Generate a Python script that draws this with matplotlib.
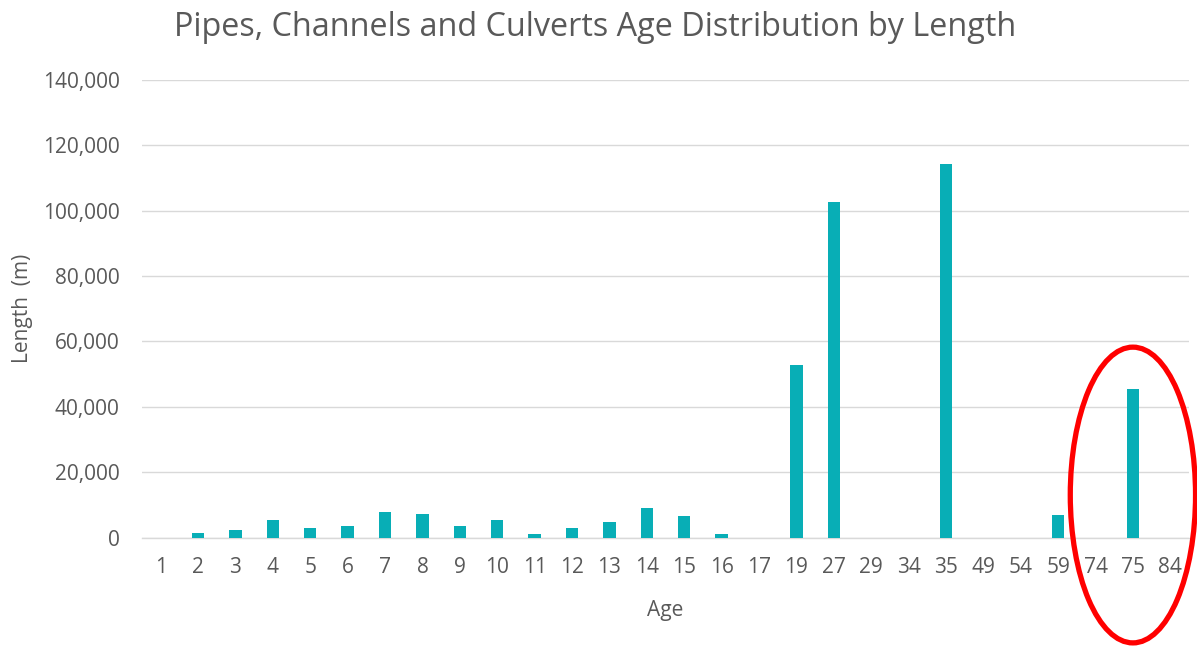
import matplotlib.pyplot as plt
from matplotlib.patches import Ellipse
from matplotlib.ticker import FuncFormatter

# Age categories (x axis) and pipe length per age in metres
ages = ["1", "2", "3", "4", "5", "6", "7", "8", "9", "10", "11", "12", "13", "14",
        "15", "16", "17", "19", "27", "29", "34", "35", "49", "54", "59", "74", "75", "84"]
lengths = [0, 1500, 2200, 5300, 2800, 3400, 7700, 7100, 3400, 5300, 1000, 2800, 4700, 8900,
           6500, 1000, 0, 52900, 102600, 0, 0, 114400, 0, 0, 7000, 0, 45400, 0]

highlight_age = "75"

GREY = "#595959"
plt.rcParams["font.family"] = ["Open Sans", "DejaVu Sans"]

fig = plt.figure(figsize=(11.97, 6.48), dpi=100)
ax = fig.add_axes([142 / 1197, 1 - 537.5 / 648, (1189 - 142) / 1197, (537.5 - 80) / 648])

x = list(range(len(ages)))
ax.bar(x, lengths, width=0.33, color="#08aeb6", zorder=3)

ax.set_xlim(-0.5, len(ages) - 0.5)
ax.set_ylim(0, 140000)
ax.set_yticks(range(0, 140001, 20000))
ax.yaxis.set_major_formatter(FuncFormatter(lambda v, _: f"{v:,.0f}"))
ax.set_xticks(x)
ax.set_xticklabels(ages)

ax.grid(axis="y", color="#d9d9d9", linewidth=1, zorder=0)
for side in ("top", "right", "left"):
    ax.spines[side].set_visible(False)
ax.spines["bottom"].set_color("#d9d9d9")
ax.spines["bottom"].set_linewidth(1)
ax.tick_params(axis="both", length=0, labelsize=15, labelcolor=GREY)
ax.tick_params(axis="y", pad=16)
ax.tick_params(axis="x", pad=14)

ax.set_xlabel("Age", fontsize=15, color=GREY, labelpad=16)
ax.set_ylabel("Length  (m)", fontsize=15, color=GREY, labelpad=7)
fig.text(0.497, 0.957, "Pipes, Channels and Culverts Age Distribution by Length",
         ha="center", va="center", fontsize=23.3, color=GREY)

# red ellipse marking the 75-year bar
hx = ages.index(highlight_age)
ax.add_patch(Ellipse((hx, 13000), width=3.35, height=90500, fill=False,
                     edgecolor="#ff0000", linewidth=3.8, clip_on=False, zorder=5))

fig.savefig("out.png", dpi=100)
